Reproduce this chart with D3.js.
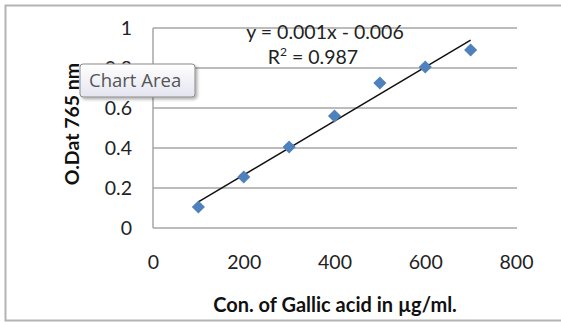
<!DOCTYPE html>
<html>
<head>
<meta charset="utf-8">
<script src="https://cdn.jsdelivr.net/npm/d3@7"></script>
<style>
  body { margin: 0; background: #fff; }
  svg { display: block; font-family: Lato, "Open Sans", sans-serif; }
</style>
</head>
<body>
<svg id="chart" width="561" height="322"></svg>
<script>
// data
const concentrations = [100, 200, 300, 400, 500, 600, 700];
const absorbance = [0.105, 0.255, 0.405, 0.56, 0.725, 0.805, 0.89];
const xTicks = [0, 200, 400, 600, 800];
const yTicks = [0, 0.2, 0.4, 0.6, 0.8, 1];
const equationText = "y = 0.001x - 0.006";
const r2Value = "0.987";

const svg = d3.select('#chart');
const width = +svg.attr('width');
const height = +svg.attr('height');

// outer chart border
svg.append('rect')
    .attr('x', 5.5).attr('y', 5.5)
    .attr('width', width + 10).attr('height', 315)
    .attr('fill', 'none')
    .attr('stroke', '#b4b4b4')
    .attr('stroke-width', 2);

const x = d3.scaleLinear().domain([0, 800]).range([153, 516]);
const y = d3.scaleLinear().domain([0, 1]).range([228, 28]);

// horizontal gridlines
svg.append('g')
    .selectAll('line')
    .data(yTicks)
    .join('line')
    .attr('x1', x(0)).attr('x2', x(800) + 1)
    .attr('y1', d => y(d)).attr('y2', d => y(d))
    .attr('stroke', '#a6a6a6')
    .attr('stroke-width', 1.5);

// left axis line
svg.append('line')
    .attr('x1', x(0)).attr('x2', x(0))
    .attr('y1', y(1)).attr('y2', y(0))
    .attr('stroke', '#a6a6a6')
    .attr('stroke-width', 1.5);

// tick labels
const yAxis = d3.axisLeft(y).tickValues(yTicks).tickSize(0).tickPadding(21)
    .tickFormat(d => d3.format('~g')(d));
svg.append('g')
    .attr('transform', `translate(${x(0)},0)`)
    .call(yAxis)
    .call(g => g.select('.domain').remove())
    .selectAll('text')
    .attr('font-family', 'Lato, sans-serif')
    .attr('font-size', 19.5)
    .attr('fill', '#222');

const xAxis = d3.axisBottom(x).tickValues(xTicks).tickSize(0).tickPadding(27);
svg.append('g')
    .attr('transform', `translate(0,${y(0)})`)
    .call(xAxis)
    .call(g => g.select('.domain').remove())
    .selectAll('text')
    .attr('font-family', 'Lato, sans-serif')
    .attr('font-size', 19.5)
    .attr('fill', '#222');

// linear trendline (least squares)
const mx = d3.mean(concentrations), my = d3.mean(absorbance);
const slope = d3.sum(concentrations, (c, i) => (c - mx) * (absorbance[i] - my)) /
    d3.sum(concentrations, c => (c - mx) * (c - mx));
const intercept = my - slope * mx;
const x0 = d3.min(concentrations), x1 = d3.max(concentrations);

svg.append('line')
    .attr('x1', x(x0)).attr('y1', y(slope * x0 + intercept))
    .attr('x2', x(x1)).attr('y2', y(slope * x1 + intercept))
    .attr('stroke', '#111')
    .attr('stroke-width', 1.5);

// diamond markers
svg.append('g')
    .selectAll('path')
    .data(concentrations)
    .join('path')
    .attr('d', d3.symbol().type(d3.symbolDiamond2).size(110))
    .attr('transform', (d, i) => `translate(${x(d)},${y(absorbance[i])})`)
    .attr('fill', '#4f81bd');

// equation labels
svg.append('text')
    .attr('x', 325).attr('y', 39)
    .attr('text-anchor', 'middle')
    .attr('font-size', 19.5)
    .attr('fill', '#222')
    .text(equationText);

const r2 = svg.append('text')
    .attr('x', 313).attr('y', 64)
    .attr('text-anchor', 'middle')
    .attr('font-size', 19.5)
    .attr('fill', '#222');
r2.append('tspan').text('R');
r2.append('tspan').attr('dy', -8).attr('font-size', 12).text('2');
r2.append('tspan').attr('dy', 8).text(' = ' + r2Value);

// axis titles
svg.append('text')
    .attr('transform', 'translate(79,124) rotate(-90)')
    .attr('text-anchor', 'middle')
    .attr('font-size', 19.5)
    .attr('font-weight', 'bold')
    .attr('fill', '#111')
    .text('O.Dat 765 nm');

svg.append('text')
    .attr('x', 335).attr('y', 312)
    .attr('text-anchor', 'middle')
    .attr('font-size', 20)
    .attr('font-weight', 'bold')
    .attr('fill', '#111')
    .text('Con. of Gallic  acid in µg/ml.');

// "Chart Area" tooltip captured in the screenshot
const defs = svg.append('defs');
const grad = defs.append('linearGradient').attr('id', 'tipGrad')
    .attr('x1', 0).attr('y1', 0).attr('x2', 0).attr('y2', 1);
grad.append('stop').attr('offset', '0%').attr('stop-color', '#ffffff');
grad.append('stop').attr('offset', '100%').attr('stop-color', '#e4e5f0');
const shadow = defs.append('filter').attr('id', 'tipShadow')
    .attr('x', '-10%').attr('y', '-10%').attr('width', '130%').attr('height', '140%');
shadow.append('feDropShadow').attr('dx', 2).attr('dy', 2).attr('stdDeviation', 1.5)
    .attr('flood-color', '#000').attr('flood-opacity', 0.3);

const tip = svg.append('g').attr('transform', 'translate(80,64)');
tip.append('rect')
    .attr('width', 115).attr('height', 33)
    .attr('rx', 3)
    .attr('fill', 'url(#tipGrad)')
    .attr('stroke', '#8a8a8a')
    .attr('filter', 'url(#tipShadow)');
tip.append('text')
    .attr('x', 9).attr('y', 23)
    .attr('font-family', '"Open Sans", sans-serif')
    .attr('font-size', 18.5)
    .attr('fill', '#555')
    .text('Chart Area');
</script>
</body>
</html>
